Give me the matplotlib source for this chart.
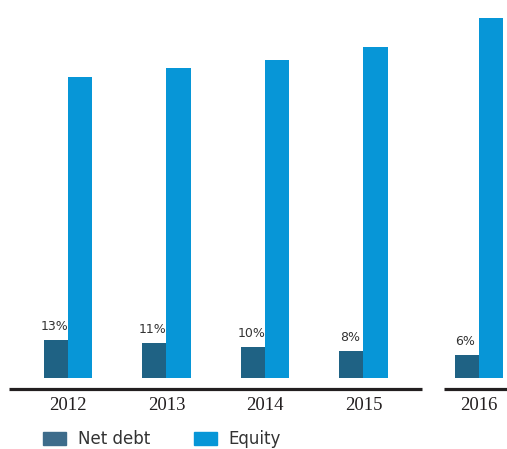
import numpy as np
import matplotlib.pyplot as plt
from matplotlib.patches import Patch

years = ["2012", "2013", "2014", "2015", "2016"]
net_debt = [38, 35, 31, 27, 23]
equity = [301, 310, 318, 331, 360]
gearing = ["13%", "11%", "10%", "8%", "6%"]

debt_col = "#1f6284"
debt_leg = "#3e6c8b"
eq_col = "#0796d7"
ink = "#231f20"

# 2016 sits a bit further out, after the break in the baseline
pos = np.array([0, 1, 2, 3, 4.17])
w = 0.245

fig = plt.figure(figsize=(5.07, 4.49), dpi=100)
ax = fig.add_axes([0, 0, 1, 1])
ax.set_xlim(-0.690, 4.457)
ax.set_ylim(-71, 378)
ax.axis("off")

bars = ax.bar(pos - w / 2, net_debt, w, color=debt_col)
ax.bar(pos + w / 2, equity, w, color=eq_col)

for b, lab in zip(bars, gearing):
    ax.annotate(lab, (b.get_x() + b.get_width() / 2, b.get_height()),
                xytext=(-1, 5), textcoords="offset points", ha="center", va="bottom",
                fontsize=9, color="#333333", family="DejaVu Sans")

# broken baseline
ax.hlines(-11, -0.599, 3.594, color=ink, lw=2.3)
ax.hlines(-11, 3.817, 4.46, color=ink, lw=2.3)

for p, y in zip(pos, years):
    ax.text(p, -28, y, ha="center", va="center", fontsize=13.5,
            family="Liberation Serif", color=ink)

handles = [Patch(color=debt_leg, label="Net debt"), Patch(color=eq_col, label="Equity")]
fig.legend(handles=handles, loc="center left", bbox_to_anchor=(43 / 507, 1 - 439 / 449),
           ncol=2, frameon=False, borderpad=0, borderaxespad=0,
           handlelength=1.4, handleheight=0.85, handletextpad=0.7, columnspacing=2.6,
           prop={"family": "DejaVu Sans", "size": 12}, labelcolor="#333333")

fig.savefig("out.png", dpi=100)
